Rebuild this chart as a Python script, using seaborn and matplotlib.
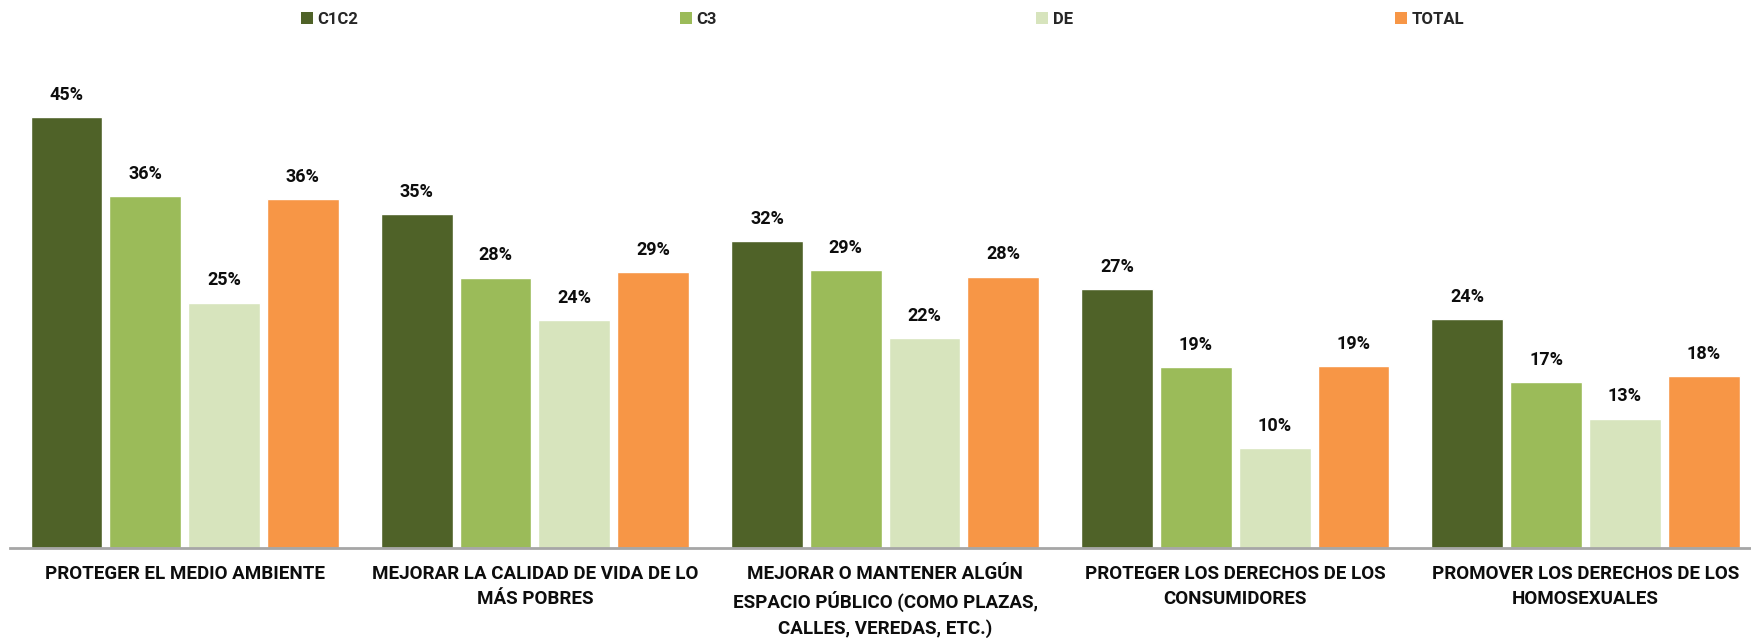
import matplotlib
matplotlib.use("Agg")
import matplotlib.pyplot as plt
import pandas as pd
import seaborn as sns
from matplotlib.patches import Patch

# ==========================
# Datos
# ==========================
temas = [
    "PROTEGER EL MEDIO AMBIENTE",
    "MEJORAR LA CALIDAD DE VIDA DE LO\nMÁS POBRES",
    "MEJORAR O MANTENER ALGÚN\nESPACIO PÚBLICO (COMO PLAZAS,\nCALLES, VEREDAS, ETC.)",
    "PROTEGER LOS DERECHOS DE LOS\nCONSUMIDORES",
    "PROMOVER LOS DERECHOS DE LOS\nHOMOSEXUALES",
]
grupos = ["C1C2", "C3", "DE", "TOTAL"]

c1c2 = [44.6, 34.6, 31.8, 26.8, 23.7]
c3 = [36.4, 28.0, 28.8, 18.7, 17.2]
de = [25.4, 23.6, 21.7, 10.3, 13.4]
total = [36.1, 28.6, 28.1, 18.8, 17.8]

colores = ["#4F6228", "#9BBB59", "#D7E4BD", "#F79646"]

df = pd.DataFrame({
    "tema": temas * 4,
    "grupo": [g for g in grupos for _ in temas],
    "valor": c1c2 + c3 + de + total,
})

# ==========================
# Gráfico
# ==========================
sns.set_theme(style="white")
plt.rcParams["font.family"] = ["Roboto", "DejaVu Sans"]
plt.rcParams["font.weight"] = "bold"

fig = plt.figure(figsize=(17.51, 6.38), dpi=100)
ax = fig.add_axes([0.0055, 0.1411, 1.0, 0.757])

sns.barplot(data=df, x="tema", y="valor", hue="grupo", order=temas,
            hue_order=grupos, palette=colores, width=0.9, gap=0.09,
            saturation=1, legend=False, ax=ax)

for cont in ax.containers:
    ax.bar_label(cont, fmt="{:.0f}%", padding=9.5, fontsize=13,
                 fontweight="bold", color="#0D0D0D")

ax.set_ylim(0, 50)
ax.set_xlim(-0.5, 4.5)
ax.set_xlabel("")
ax.set_ylabel("")
ax.set_yticks([])
ax.tick_params(axis="x", length=0, pad=12, labelsize=13.5, colors="#0D0D0D")
for lab in ax.get_xticklabels():
    lab.set_fontweight("bold")
    lab.set_linespacing(1.5)

for s in ["top", "right", "left"]:
    ax.spines[s].set_visible(False)
ax.spines["bottom"].set_color("#A6A6A6")
ax.spines["bottom"].set_linewidth(2)

# Leyenda: una entrada por grupo, repartidas a lo ancho como en el original
pos_leyenda = [0.1719, 0.3883, 0.5917, 0.7967]
for g, c, xpos in zip(grupos, colores, pos_leyenda):
    fig.legend(handles=[Patch(facecolor=c, edgecolor="none", label=g)],
               loc="center left", bbox_to_anchor=(xpos, 0.970),
               frameon=False, handlelength=0.7, handleheight=0.7,
               handletextpad=0.3, borderpad=0, borderaxespad=0,
               prop={"weight": "bold", "size": 12})

fig.savefig("out.png", dpi=100)
